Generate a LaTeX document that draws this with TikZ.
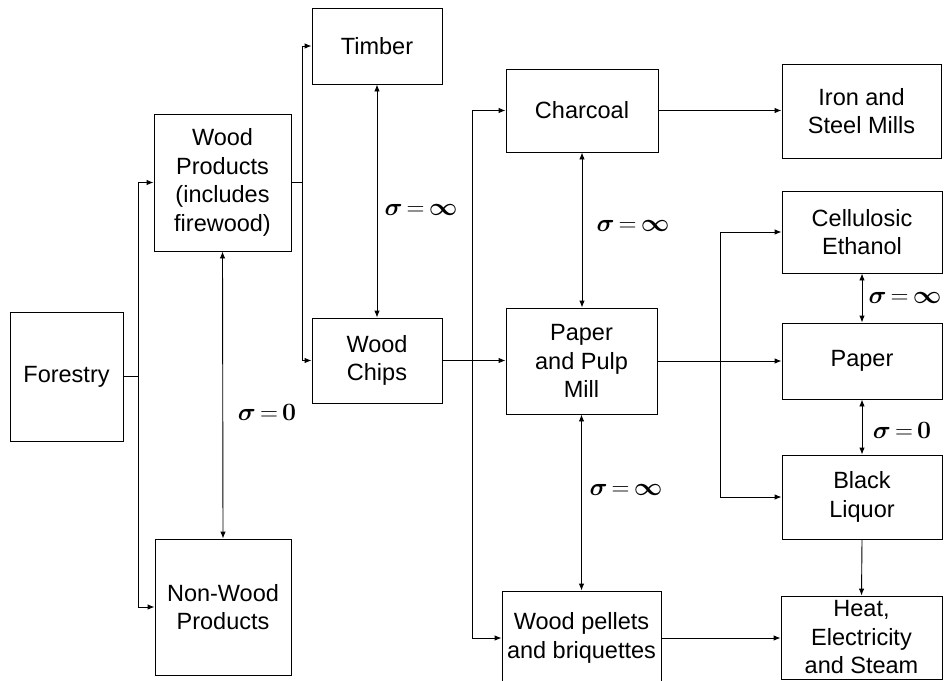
\documentclass[tikz,border=0pt]{standalone}
\usepackage{amsmath}
\usepackage{bm}
\usepackage[no-math]{fontspec}
\setmainfont{Liberation Sans}
\usetikzlibrary{arrows.meta}
\newcommand{\sigeq}[1]{$\bm{\sigma}\mskip-2mu=\mskip-2mu#1$}
\begin{document}
\begin{tikzpicture}[x=1pt,y=-1pt,
  box/.style={draw=black,line width=0.9pt,rectangle,inner sep=0pt,align=center,
    font=\fontsize{23.5}{28.5}\selectfont},
  arr/.style={line width=0.9pt,-{Latex[length=7pt,width=5.5pt]}},
  darr/.style={line width=0.9pt,{Latex[length=7pt,width=5.5pt]}-{Latex[length=7pt,width=5.5pt]}},
  ln/.style={line width=0.9pt},
  sig/.style={inner sep=0pt,font=\fontsize{26}{30}\selectfont}]
\useasboundingbox (0,0) rectangle (944,680);
% boxes
\node[box,minimum width=113pt,minimum height=129pt] (forestry) at (66.5,376.5) {Forestry};
\node[box,minimum width=137pt,minimum height=137pt] (wood) at (222.5,182.5) {Wood\\Products\\(includes\\firewood)};
\node[box,minimum width=136pt,minimum height=136pt] (nonwood) at (223,607) {Non-Wood\\Products};
\node[box,minimum width=130pt,minimum height=76pt] (timber) at (377,46) {Timber};
\node[box,minimum width=130pt,minimum height=85pt] (chips) at (377,360.5) {Wood\\Chips};
\node[box,minimum width=152pt,minimum height=83pt] (charcoal) at (582,110.5) {Charcoal};
\node[box,minimum width=151pt,minimum height=106pt] (mill) at (581.5,361) {Paper\\and Pulp\\Mill};
\node[box,minimum width=159pt,minimum height=94pt] (pellets) at (581.5,638) {Wood pellets\\and briquettes};
\node[box,minimum width=159pt,minimum height=94pt] (iron) at (861.5,111) {Iron and\\Steel Mills};
\node[box,minimum width=160pt,minimum height=82pt] (cell) at (862,232) {Cellulosic\\Ethanol};
\node[box,minimum width=160pt,minimum height=76pt] (paper) at (862,361) {Paper};
\node[box,minimum width=160pt,minimum height=84pt] (bl) at (862,497) {Black\\Liquor};
\node[box,minimum width=161pt,minimum height=83pt] (heat) at (861.5,637.5) {Heat,\\Electricity\\and Steam};
% junctions
\coordinate (fj) at (138,376.5);
\coordinate (wj) at (302,182.5);
\coordinate (cj) at (472,360.5);
\coordinate (mj) at (720,361);
% connectors
\draw[ln] (forestry.east) -- (fj);
\draw[arr] (fj) |- (wood.west);
\draw[arr] (fj) |- (nonwood.west);
\draw[darr] (wood.south) -- (nonwood.north);
\draw[ln] (wood.east) -- (wj);
\draw[arr] (wj) |- (timber.west);
\draw[arr] (wj) |- (chips.west);
\draw[darr] (timber.south) -- (chips.north);
\draw[arr] (chips.east) -- (mill.west |- chips.east);
\draw[arr] (cj) |- (charcoal.west);
\draw[arr] (cj) |- (pellets.west);
\draw[darr] (charcoal.south) -- (charcoal.south |- mill.north);
\draw[darr] (mill.south) -- (mill.south |- pellets.north);
\draw[arr] (charcoal.east) -- (iron.west |- charcoal.east);
\draw[arr] (mill.east) -- (paper.west);
\draw[arr] (mj) |- (cell.west);
\draw[arr] (mj) |- (bl.west);
\draw[darr] (cell.south) -- (paper.north);
\draw[darr] (paper.south) -- (bl.north);
\draw[arr] (bl.south) -- (heat.north);
\draw[arr] (pellets.east) -- (heat.west |- pellets.east);
% labels
\node[sig] (s1) at (267,412) {\sigeq{\bm{0}}};
\node[sig] (s2) at (421,210) {\sigeq{\bm{\infty}}};
\node[sig] (s3) at (633,226) {\sigeq{\bm{\infty}}};
\node[sig] (s4) at (626,490) {\sigeq{\bm{\infty}}};
\node[sig] (s5) at (905,298) {\sigeq{\bm{\infty}}};
\node[sig] (s6) at (902,430) {\sigeq{\bm{0}}};
\end{tikzpicture}
\end{document}
